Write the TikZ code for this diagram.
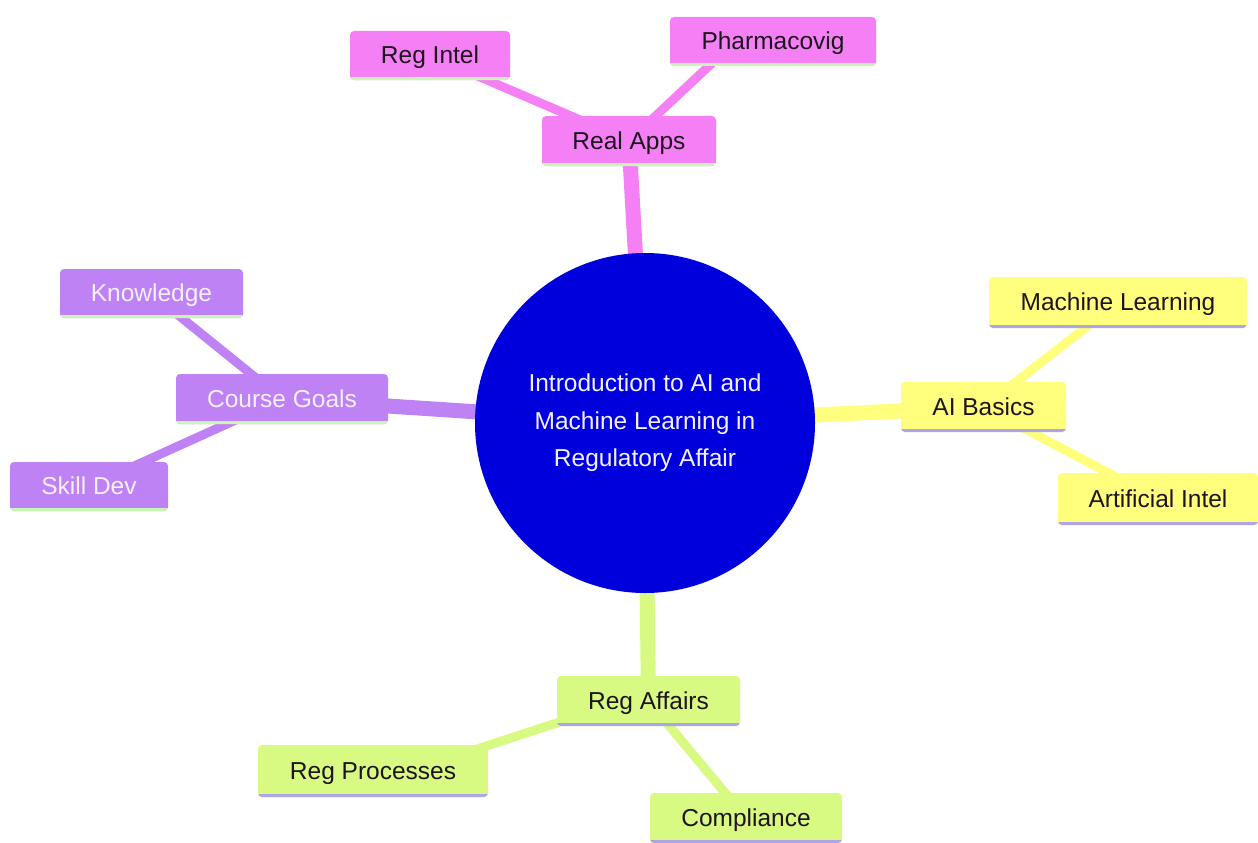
\documentclass[tikz,border=0pt]{standalone}
\usepackage{fontspec}
\setmainfont{Liberation Sans}
\usetikzlibrary{backgrounds}
\definecolor{pinkc}{RGB}{245,128,245}
\definecolor{purc}{RGB}{190,130,245}
\definecolor{yelc}{RGB}{255,255,125}
\definecolor{limc}{RGB}{216,250,130}
\definecolor{bluec}{RGB}{0,0,220}
\definecolor{barg}{RGB}{200,245,180}
\definecolor{barp}{RGB}{175,165,230}
\definecolor{darktxt}{RGB}{30,20,30}
\definecolor{lighttxt}{RGB}{245,240,255}
\tikzset{
  x=1pt, y=-1pt,
  box/.style={rectangle, rounded corners=4pt, inner sep=0pt, text height=17.5pt, text depth=1pt,
    font=\fontsize{24.5}{28}\selectfont},
  barred/.style={path picture={\draw[line width=6pt,#1] (path picture bounding box.south west) -- (path picture bounding box.south east);}},
  pinkbox/.style={box, fill=pinkc, text=darktxt, barred=barg},
  purbox/.style={box, fill=purc, text=lighttxt, barred=barg},
  yelbox/.style={box, fill=yelc, text=darktxt, barred=barp},
  limbox/.style={box, fill=limc, text=darktxt, barred=barp},
  mainedge/.style={line width=15pt},
  subedge/.style={line width=9pt},
}
\begin{document}
\begin{tikzpicture}
\useasboundingbox (0,0) rectangle (1258,843);
% nodes
\node[circle, fill=bluec, minimum size=340pt, inner sep=0pt, text=lighttxt, align=center,
  font=\fontsize{24.5}{37.5}\selectfont] (center) at (645,423)
  {Introduction to AI and\\Machine Learning in\\Regulatory Affair};
\node[pinkbox, minimum width=174pt, minimum height=50pt] (realapps) at (629,141) {Real Apps};
\node[pinkbox, minimum width=160pt, minimum height=49pt] (regintel) at (430,55.5) {Reg Intel};
\node[pinkbox, minimum width=206pt, minimum height=49pt] (pharma) at (773,41.5) {Pharmacovig};
\node[purbox, minimum width=212pt, minimum height=50pt] (goals) at (282,399) {Course Goals};
\node[purbox, minimum width=183pt, minimum height=49pt] (knowledge) at (151.5,293.5) {Knowledge};
\node[purbox, minimum width=158pt, minimum height=49pt] (skill) at (89,486.5) {Skill Dev};
\node[yelbox, minimum width=165pt, minimum height=50pt] (aibasics) at (983.5,407) {AI Basics};
\node[yelbox, minimum width=258pt, minimum height=51pt] (ml) at (1118,302.5) {Machine Learning};
\node[yelbox, minimum width=200pt, minimum height=52pt] (artint) at (1158,499) {Artificial Intel};
\node[limbox, minimum width=183pt, minimum height=50pt] (regaff) at (648.5,701) {Reg Affairs};
\node[limbox, minimum width=230pt, minimum height=52pt] (regproc) at (373,771) {Reg Processes};
\node[limbox, minimum width=192pt, minimum height=50pt] (compl) at (746,818) {Compliance};
% edges
\begin{scope}[on background layer]
\draw[mainedge, pinkc] (center.center) -- (realapps.center);
\draw[subedge, pinkc] (realapps.center) -- (regintel.center);
\draw[subedge, pinkc] (realapps.center) -- ([xshift=-38pt]pharma.center);
\draw[mainedge, purc] (center.center) -- (goals.center);
\draw[subedge, purc] (goals.center) -- (knowledge.center);
\draw[subedge, purc] (goals.center) -- (skill.center);
\draw[mainedge, yelc] (center.center) -- (aibasics.center);
\draw[subedge, yelc] (aibasics.center) -- (ml.center);
\draw[subedge, yelc] (aibasics.center) -- (artint.center);
\draw[mainedge, limc] (center.center) -- (regaff.center);
\draw[subedge, limc] ([yshift=8pt]regaff.center) -- ([yshift=-12pt]regproc.center);
\draw[subedge, limc] (regaff.center) -- (compl.center);
\end{scope}
\end{tikzpicture}
\end{document}
